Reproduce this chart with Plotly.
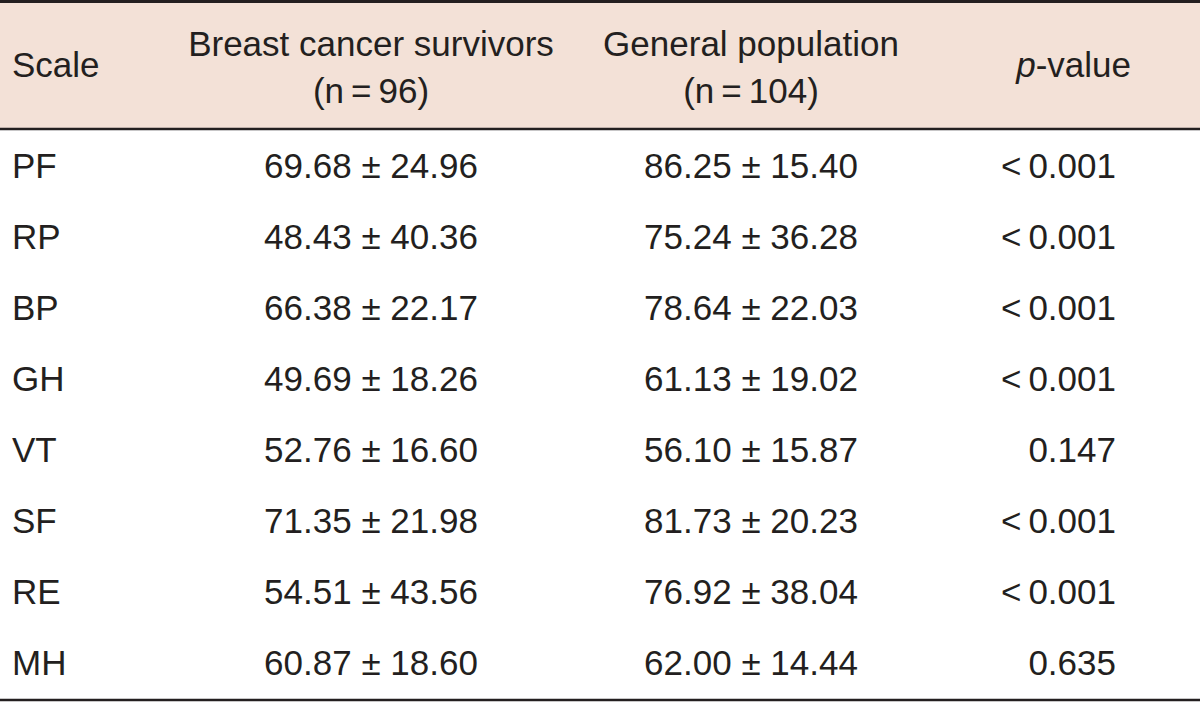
import plotly.graph_objects as go

# ---- data ----
scales = ["PF", "RP", "BP", "GH", "VT", "SF", "RE", "MH"]
survivors = ["69.68 ± 24.96", "48.43 ± 40.36", "66.38 ± 22.17", "49.69 ± 18.26",
             "52.76 ± 16.60", "71.35 ± 21.98", "54.51 ± 43.56", "60.87 ± 18.60"]
general = ["86.25 ± 15.40", "75.24 ± 36.28", "78.64 ± 22.03", "61.13 ± 19.02",
           "56.10 ± 15.87", "81.73 ± 20.23", "76.92 ± 38.04", "62.00 ± 14.44"]
p_values = ["<\u20090.001", "<\u20090.001", "<\u20090.001", "<\u20090.001",
            "0.147", "<\u20090.001", "<\u20090.001", "0.635"]
header_titles = ["Scale", "Breast cancer survivors", "General population", "<i>p</i>-value"]
header_counts = ["", "(n\u2009=\u200996)", "(n\u2009=\u2009104)", ""]

# ---- style / layout constants ----
W, H = 1200, 702
FONT = "Liberation Sans, Arial, sans-serif"
FS = 35
INK = "#231f20"
HEAD_BG = "#f3e1d7"
HEAD_TOP, HEAD_BOT, TABLE_BOT = 3, 128, 700
ROW_H = 70.9
FIRST_ROW = HEAD_BOT + 41.5
col_x = [12, 371, 751, 1116]
col_pos = ["middle right", "middle center", "middle center", "middle left"]
head_x = [12, 371, 751, 1131]

row_y = [FIRST_ROW + ROW_H * i for i in range(len(scales))]

fig = go.Figure()

columns = [scales, survivors, general, p_values]
for cx, pos, vals in zip(col_x, col_pos, columns):
    fig.add_trace(go.Scatter(
        x=[cx] * len(vals), y=row_y, mode="text", text=vals,
        textposition=pos, hoverinfo="skip", showlegend=False,
        textfont=dict(family=FONT, size=FS, color=INK)))

# header
head_mid = (HEAD_TOP + HEAD_BOT) / 2 + 3
line1_y, line2_y = 47, 94
for hx, pos, title, cnt in zip(head_x, col_pos, header_titles, header_counts):
    if cnt:
        ys, txt = [line1_y, line2_y], [title, cnt]
    else:
        ys, txt = [head_mid], [title]
    fig.add_trace(go.Scatter(
        x=[hx] * len(ys), y=ys, mode="text", text=txt,
        textposition=pos, hoverinfo="skip", showlegend=False,
        textfont=dict(family=FONT, size=FS, color=INK)))

shapes = [
    dict(type="rect", xref="x", yref="y", x0=0, x1=W, y0=HEAD_TOP, y1=HEAD_BOT,
         fillcolor=HEAD_BG, line=dict(width=0), layer="below"),
    dict(type="line", xref="x", yref="y", x0=0, x1=W, y0=1.5, y1=1.5,
         line=dict(color=INK, width=3)),
    dict(type="line", xref="x", yref="y", x0=0, x1=W, y0=HEAD_BOT + 1, y1=HEAD_BOT + 1,
         line=dict(color=INK, width=2.5)),
    dict(type="line", xref="x", yref="y", x0=0, x1=W, y0=TABLE_BOT, y1=TABLE_BOT,
         line=dict(color=INK, width=2.5)),
]

fig.update_layout(
    width=W, height=H, margin=dict(l=0, r=0, t=0, b=0),
    paper_bgcolor="white", plot_bgcolor="white",
    xaxis=dict(range=[0, W], visible=False, fixedrange=True),
    yaxis=dict(range=[H, 0], visible=False, fixedrange=True),
    shapes=shapes, showlegend=False,
)

fig.write_html("out.html", config={"displayModeBar": False},
               post_script="document.body.style.margin='0';document.body.style.overflow='hidden';")
